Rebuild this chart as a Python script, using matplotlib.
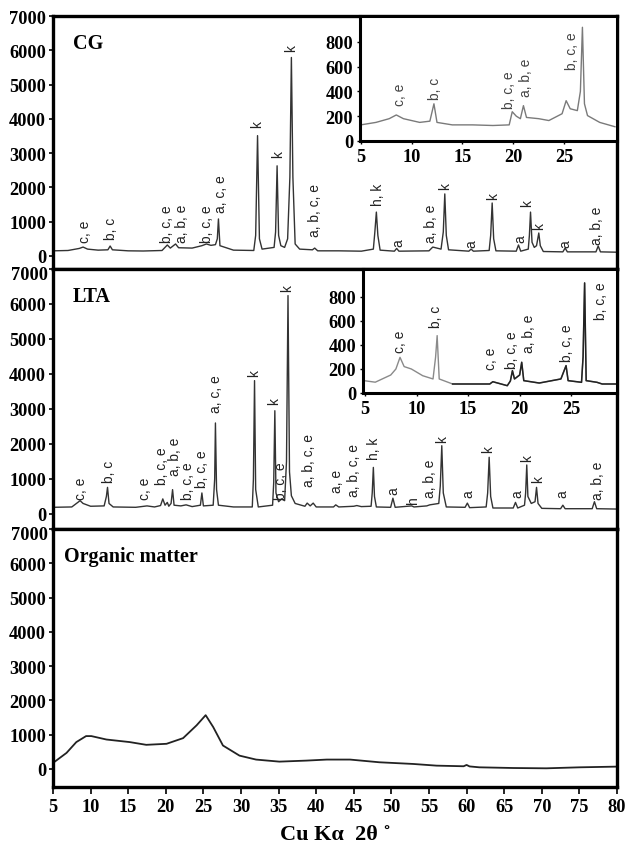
import matplotlib
matplotlib.use("Agg")
import matplotlib.pyplot as plt

# ---------------- data ----------------
cg_x = [5.0, 7.0, 8.5, 9.0, 9.6, 11.0, 12.3, 12.6, 12.9, 15.0, 17.0, 19.5, 20.2, 20.6, 21.3, 21.7,
        23.5, 24.8, 25.4, 26.0, 26.6, 26.85, 27.0, 27.2, 29.0, 31.7, 31.95, 32.2, 32.45, 32.8, 34.4,
        34.6, 34.8, 35.0, 35.3, 35.8, 36.2, 36.5, 36.7, 36.9, 37.2, 37.8, 39.5, 39.8, 40.2, 43.0,
        46.0, 47.6, 47.8, 48.0, 48.2, 48.5, 50.4, 50.7, 51.0, 55.0, 55.5, 56.6, 56.9, 57.1, 57.3,
        57.6, 60.3, 60.6, 60.9, 63.0, 63.2, 63.4, 63.6, 63.9, 66.6, 66.9, 67.2, 68.2, 68.35, 68.5,
        68.7, 69.0, 69.3, 69.6, 69.8, 70.2, 72.8, 73.1, 73.4, 77.2, 77.5, 77.8, 80.0]
cg_y = [150, 160, 220, 260, 200, 170, 180, 290, 180, 150, 145, 160, 320, 230, 350, 240,
        230, 300, 350, 310, 330, 500, 1080, 300, 170, 160, 600, 3510, 500, 200, 250,
        700, 2630, 600, 300, 250, 500, 2300, 5790, 2300, 350, 200, 180, 230, 150, 150,
        140, 200, 700, 1280, 600, 170, 140, 220, 140, 150, 260, 200, 700, 1810, 600,
        180, 140, 200, 140, 160, 600, 1545, 500, 150, 140, 320, 140, 200, 600, 1280,
        400, 250, 300, 670, 300, 130, 120, 230, 120, 120, 290, 120, 110]

lta_x = [5.0, 7.5, 8.3, 8.6, 9.0, 10.0, 11.8, 12.1, 12.25, 12.45, 13.0, 16.0, 17.5, 18.5, 19.3,
         19.6, 19.9, 20.2, 20.4, 20.7, 20.9, 21.1, 22.0, 22.7, 23.5, 24.6, 24.8, 25.0, 26.3, 26.5,
         26.6, 26.75, 27.0, 29.0, 31.5, 31.65, 31.8, 31.95, 32.3, 34.2, 34.35, 34.5, 34.65, 35.0,
         35.4, 35.8, 36.05, 36.25, 36.45, 36.7, 37.2, 38.5, 38.8, 39.2, 39.6, 40.0, 42.3, 42.6,
         43.0, 45.0, 45.4, 46.0, 47.3, 47.45, 47.6, 47.75, 48.0, 49.9, 50.2, 50.5, 52.7, 53.0,
         54.7, 55.1, 56.3, 56.5, 56.7, 56.9, 57.3, 59.8, 60.1, 60.4, 62.6, 62.8, 63.0, 63.2, 63.5,
         66.2, 66.5, 66.8, 67.7, 67.85, 68.0, 68.15, 68.6, 69.1, 69.3, 69.5, 70.0, 72.5, 72.8,
         73.1, 76.7, 77.0, 77.3, 80.0]
lta_y = [190, 200, 330, 380, 300, 220, 230, 500, 760, 300, 200, 190, 230, 200, 240,
         430, 250, 330, 220, 300, 695, 250, 230, 260, 210, 250, 600, 230, 250, 1000,
         2600, 700, 250, 200, 200, 1000, 3810, 700, 200, 250, 900, 2950, 600, 350,
         430, 380, 1500, 6240, 1200, 520, 300, 220, 310, 230, 310, 200, 200, 260,
         200, 220, 240, 210, 220, 600, 1330, 500, 200, 190, 450, 190, 230, 200,
         230, 260, 300, 800, 1950, 600, 200, 190, 310, 180, 200, 600, 1620, 500, 170,
         170, 330, 170, 250, 600, 1400, 500, 300, 350, 760, 300, 160, 150, 250,
         150, 150, 350, 150, 140]

om_x = [5.0, 6.8, 8.1, 9.4, 10.1, 12.1, 15.2, 17.4, 20.1, 22.3, 24.1, 25.3, 26.3, 27.6, 29.8,
        32.0, 35.1, 38.7, 41.4, 44.5, 48.4, 52.9, 56.0, 59.6, 60.0, 60.4, 61.7, 66.2, 70.6,
        75.0, 79.9]
om_y = [176, 470, 785, 960, 960, 860, 785, 705, 735, 900, 1275, 1570, 1225, 685, 390,
        275, 215, 245, 275, 275, 196, 147, 98, 80, 118, 75, 49, 29, 20, 49, 69]

cg_in_x = [5.0, 6.5, 7.8, 8.5, 9.2, 10.8, 11.8, 12.2, 12.5, 14.0, 16.0, 18.0, 19.6, 19.9, 20.3,
           20.7, 21.0, 21.3, 22.5, 23.5, 24.8, 25.2, 25.6, 26.3, 26.6, 26.8, 27.0, 27.3, 28.5, 30.0]
cg_in_y = [130, 150, 180, 210, 180, 150, 160, 300, 150, 130, 130, 125, 130, 236, 200,
           180, 285, 190, 180, 165, 220, 325, 260, 245, 400, 917, 300, 205, 150, 115]

lta_in_x = [4.9, 6.0, 7.5, 8.0, 8.4, 8.8, 9.5, 10.6, 11.6, 11.85, 12.0, 12.2, 13.5, 17.1, 17.4,
            18.8, 19.1, 19.3, 19.5, 20.0, 20.2, 20.4, 21.9, 24.0, 24.5, 24.7, 26.0, 26.15, 26.3,
            26.45, 27.5, 28.0, 29.4]
lta_in_y = [103, 90, 150, 200, 297, 220, 200, 144, 117, 300, 478, 117, 75, 75, 94,
            61, 100, 186, 117, 150, 256, 103, 83, 117, 228, 103, 89, 300, 917,
            103, 89, 75, 75]

# peak labels: x, bottom y, text
cg_lab_x = [9.3, 12.7, 20.1, 22.1, 25.5, 27.3, 32.2, 35.0, 36.6, 39.8, 48.2, 50.9, 55.3, 57.1,
            60.7, 63.5, 67.1, 68.0, 69.7, 73.1, 77.4]
cg_lab_y = [400, 500, 400, 420, 420, 1280, 3760, 2880, 5970, 580, 1500, 290, 400, 1950,
            260, 1660, 410, 1450, 790, 260, 350]
cg_lab_t = ["c, e", "b, c", "b, c, e", "a, b, e", "b, c, e", "a, c, e", "k", "k", "k",
            "a, b, c, e", "h, k", "a", "a, b, e", "k", "a", "k", "a", "k", "k", "a", "a, b, e"]

lta_lab_x = [8.7, 12.4, 17.2, 19.5, 21.2, 22.9, 24.8, 26.7, 31.8, 34.4, 35.3, 36.1, 39.1, 42.7,
             45.0, 47.7, 50.2, 52.9, 55.1, 56.7, 60.2, 62.9, 66.7, 68.0, 69.5, 72.8, 77.5]
lta_lab_y = [430, 900, 430, 860, 1100, 430, 770, 2900, 3950, 3140, 430, 6380, 810, 640,
             520, 1570, 570, 310, 480, 2050, 480, 1770, 480, 1520, 910, 480, 430]
lta_lab_t = ["c, e", "b, c", "c, e", "b, c, e", "a, b, e", "b, c, e", "b, c, e", "a, c, e", "k",
             "k", "b, c, e", "k", "a, b, c, e", "a, e", "a, b, c, e", "h, k", "a", "h", "a, b, e",
             "k", "a", "k", "a", "k", "k", "a", "a, b, e"]

cg_in_lab_x = [8.9, 12.3, 19.6, 21.3, 25.8]
cg_in_lab_y = [290, 340, 270, 365, 580]
cg_in_lab_t = ["c, e", "b, c", "b, c, e", "a, b, e", "b, c, e"]

lta_in_lab_x = [8.4, 11.9, 17.2, 19.3, 20.9, 24.6, 27.9]
lta_in_lab_y = [340, 550, 200, 210, 340, 270, 617]
lta_in_lab_t = ["c, e", "b, c", "c, e", "b, c, e", "a, b, e", "b, c, e", "b, c, e"]

main_yticks = [0, 1000, 2000, 3000, 4000, 5000, 6000, 7000]
main_xticks = [5, 10, 15, 20, 25, 30, 35, 40, 45, 50, 55, 60, 65, 70, 75, 80]
inset_yticks = [0, 200, 400, 600, 800]
inset_xticks = [5, 10, 15, 20, 25]
panel_titles = ["CG", "LTA", "Organic matter"]

# ---------------- drawing ----------------
W, H = 634, 853
fig = plt.figure(figsize=(W / 100, H / 100), dpi=100)
SERIF = ["Liberation Serif", "DejaVu Serif"]
SANS = ["Liberation Sans", "DejaVu Sans"]
tick_font = dict(family=SERIF, weight="bold", size=13.2)


def frac(l, t, r, b):
    return [l / W, 1 - b / H, (r - l) / W, (b - t) / H]


ax1 = fig.add_axes(frac(53, 17, 617, 270))
ax2 = fig.add_axes(frac(53, 270, 617, 530))
ax3 = fig.add_axes(frac(53, 530, 617, 788))
ylims = [(-380, 7000), (-430, 7000), (-525, 7000)]

for i, (ax, yl, title) in enumerate(zip([ax1, ax2, ax3], ylims, panel_titles)):
    ax.set_xlim(5, 80)
    ax.set_ylim(*yl)
    ax.set_yticks(main_yticks)
    names = [str(v) for v in main_yticks]
    if i > 0:
        # top label of the lower panels sits just below the shared border
        names[-1] = ""
        ax.annotate(str(main_yticks[-1]), xy=(0, main_yticks[-1]),
                    xycoords=("axes fraction", "data"), xytext=(-3.7, -2.2),
                    textcoords="offset points", ha="right", va="center_baseline",
                    **tick_font)
    ax.set_yticklabels(names, **tick_font)
    ax.tick_params(axis="y", direction="out", length=3, width=1.2, pad=2)
    for s in ax.spines.values():
        s.set_linewidth(2.4)
    ax.text(0.035 if title != "Organic matter" else 0.02, 0.895, title, transform=ax.transAxes,
            family=SERIF, weight="bold", size=14.5, ha="left", va="center")

for ax in (ax1, ax2):
    ax.set_xticks([])
ax3.set_xticks(main_xticks)
ax3.set_xticklabels([str(v) for v in main_xticks], **tick_font)
ax3.tick_params(axis="x", direction="out", length=5, width=1.2, pad=3)

ax1.plot(cg_x, cg_y, color="#333333", lw=1.0)
ax2.plot(lta_x, lta_y, color="#333333", lw=1.0)
ax3.plot(om_x, om_y, color="#222222", lw=1.3)

lab_font = dict(family=SANS, size=10, rotation=90, ha="center", va="bottom", color="#222222")
for x, y, t in zip(cg_lab_x, cg_lab_y, cg_lab_t):
    ax1.text(x, y, t, **lab_font)
for x, y, t in zip(lta_lab_x, lta_lab_y, lta_lab_t):
    ax2.text(x, y, t, **lab_font)

# insets
in1 = fig.add_axes(frac(360, 17, 617, 142))
in2 = fig.add_axes(frac(363, 270, 617, 394))
in1.set_xlim(4.93, 30.2)
in1.set_ylim(0, 1008)
in2.set_xlim(4.81, 29.44)
in2.set_ylim(0, 1033)
for ax in (in1, in2):
    ax.set_yticks(inset_yticks)
    ax.set_yticklabels([str(v) for v in inset_yticks], **tick_font)
    ax.set_xticks(inset_xticks)
    ax.set_xticklabels([str(v) for v in inset_xticks], **tick_font)
    ax.tick_params(axis="both", direction="out", length=2, width=1.0, pad=3)
    for s in ax.spines.values():
        s.set_linewidth(2.2)

in1.plot(cg_in_x, cg_in_y, color="#7a7a7a", lw=1.0)
in2.plot(lta_in_x, lta_in_y, color="#8a8a8a", lw=1.0)
k = next(i for i, v in enumerate(lta_in_x) if v >= 13.5)
in2.plot(lta_in_x[k:], lta_in_y[k:], color="#222222", lw=1.1)

in_font = dict(lab_font)
in_font["color"] = "#444444"
for x, y, t in zip(cg_in_lab_x, cg_in_lab_y, cg_in_lab_t):
    in1.text(x, y, t, **in_font)
for x, y, t in zip(lta_in_lab_x, lta_in_lab_y, lta_in_lab_t):
    in2.text(x, y, t, **lab_font)

fig.text(335 / W, 1 - 835 / H, "Cu Kα  2θ ˚", family=SERIF, weight="bold", size=16,
         ha="center", va="center")

fig.savefig("out.png", dpi=100)
